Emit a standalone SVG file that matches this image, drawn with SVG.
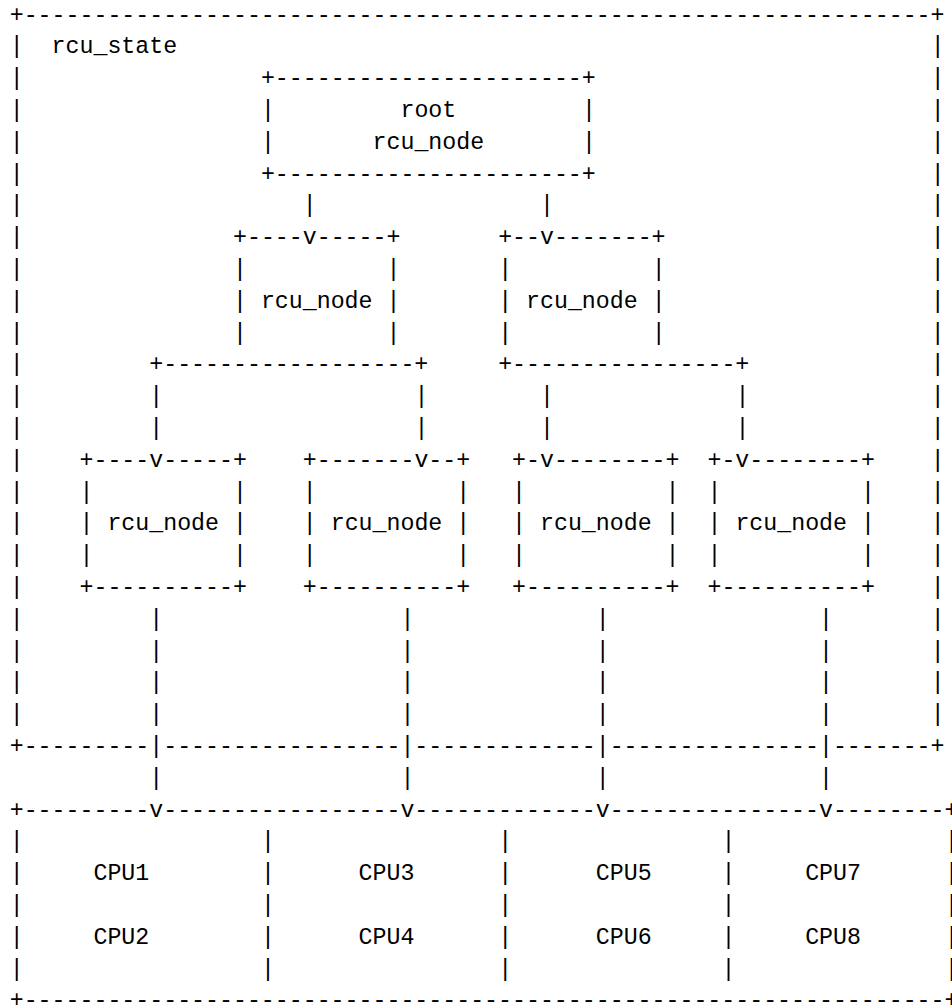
<svg xmlns="http://www.w3.org/2000/svg" width="952" height="1007" viewBox="0 0 952 1007">
<style>
text { font-family: "Liberation Mono", "Courier New", monospace; font-size: 23.25px; fill: #000; }
</style>
<rect width="952" height="1007" fill="#fff"/>
<g id="rcu_state">
<text x="9.72" y="21.6">+-----------------------------------------------------------------+</text>
<text x="51.59" y="53.4">rcu_state</text>
<text x="9.72 930.75" y="53.4">||</text>
<text x="9.72 930.75" y="85.2">||</text>
<text x="9.72 930.75" y="117.0">||</text>
<text x="9.72 930.75" y="148.8">||</text>
<text x="9.72 930.75" y="180.6">||</text>
<text x="9.72 930.75" y="212.4">||</text>
<text x="9.72 930.75" y="244.2">||</text>
<text x="9.72 930.75" y="276.0">||</text>
<text x="9.72 930.75" y="307.8">||</text>
<text x="9.72 930.75" y="339.6">||</text>
<text x="9.72 930.75" y="371.4">||</text>
<text x="9.72 930.75" y="403.2">||</text>
<text x="9.72 930.75" y="435.0">||</text>
<text x="9.72 930.75" y="466.8">||</text>
<text x="9.72 930.75" y="498.6">||</text>
<text x="9.72 930.75" y="530.4">||</text>
<text x="9.72 930.75" y="562.2">||</text>
<text x="9.72 930.75" y="594.0">||</text>
<text x="9.72 930.75" y="625.8">||</text>
<text x="9.72 930.75" y="657.6">||</text>
<text x="9.72 930.75" y="689.4">||</text>
<text x="9.72 930.75" y="721.2">||</text>
<text x="9.72" y="753.0">+---------|-----------------|-------------|---------------|-------+</text>
</g>
<g id="root_rcu_node">
<text x="260.91" y="85.2">+----------------------+</text>
<text x="260.91 581.88" y="117.0">||</text>
<text x="400.46" y="117.0">root</text>
<text x="260.91 581.88" y="148.8">||</text>
<text x="372.55" y="148.8">rcu_node</text>
<text x="260.91" y="180.6">+----------------------+</text>
</g>
<g id="rcu_node_1a">
<text x="233.00" y="244.2">+----v-----+</text>
<text x="233.00 386.51" y="276.0">||</text>
<text x="233.00 386.51" y="307.8">||</text>
<text x="260.91" y="307.8">rcu_node</text>
<text x="233.00 386.51" y="339.6">||</text>
</g>
<g id="rcu_node_1b">
<text x="498.15" y="244.2">+--v-------+</text>
<text x="498.15 651.65" y="276.0">||</text>
<text x="498.15 651.65" y="307.8">||</text>
<text x="526.06" y="307.8">rcu_node</text>
<text x="498.15 651.65" y="339.6">||</text>
</g>
<g id="rcu_node_2a">
<text x="79.50" y="466.8">+----v-----+</text>
<text x="79.50 233.00" y="498.6">||</text>
<text x="79.50 233.00" y="530.4">||</text>
<text x="107.41" y="530.4">rcu_node</text>
<text x="79.50 233.00" y="562.2">||</text>
<text x="79.50" y="594.0">+----------+</text>
</g>
<g id="rcu_node_2b">
<text x="302.78" y="466.8">+-------v--+</text>
<text x="302.78 456.28" y="498.6">||</text>
<text x="302.78 456.28" y="530.4">||</text>
<text x="330.69" y="530.4">rcu_node</text>
<text x="302.78 456.28" y="562.2">||</text>
<text x="302.78" y="594.0">+----------+</text>
</g>
<g id="rcu_node_2c">
<text x="512.10" y="466.8">+-v--------+</text>
<text x="512.10 665.61" y="498.6">||</text>
<text x="512.10 665.61" y="530.4">||</text>
<text x="540.01" y="530.4">rcu_node</text>
<text x="512.10 665.61" y="562.2">||</text>
<text x="512.10" y="594.0">+----------+</text>
</g>
<g id="rcu_node_2d">
<text x="707.47" y="466.8">+-v--------+</text>
<text x="707.47 860.98" y="498.6">||</text>
<text x="707.47 860.98" y="530.4">||</text>
<text x="735.38" y="530.4">rcu_node</text>
<text x="707.47 860.98" y="562.2">||</text>
<text x="707.47" y="594.0">+----------+</text>
</g>
<g id="cpus">
<text x="9.72" y="816.6">+---------v-----------------v-------------v---------------v--------+</text>
<text x="9.72 260.91 498.15 721.43 944.70" y="848.4">|||||</text>
<text x="9.72 260.91 498.15 721.43 944.70" y="880.2">|||||</text>
<text x="9.72 260.91 498.15 721.43 944.70" y="912.0">|||||</text>
<text x="9.72 260.91 498.15 721.43 944.70" y="943.8">|||||</text>
<text x="9.72 260.91 498.15 721.43 944.70" y="975.6">|||||</text>
<text x="93.45" y="880.2">CPU1</text>
<text x="93.45" y="943.8">CPU2</text>
<text x="358.60" y="880.2">CPU3</text>
<text x="358.60" y="943.8">CPU4</text>
<text x="595.83" y="880.2">CPU5</text>
<text x="595.83" y="943.8">CPU6</text>
<text x="805.16" y="880.2">CPU7</text>
<text x="805.16" y="943.8">CPU8</text>
<text x="9.72" y="1007.4">+------------------------------------------------------------------+</text>
</g>
<g id="connectors">
<text x="302.78 540.01" y="212.4">||</text>
<text x="149.27" y="371.4">+------------------+</text>
<text x="498.15" y="371.4">+----------------+</text>
<text x="149.27 414.42 540.01 735.38" y="403.2">||||</text>
<text x="149.27 414.42 540.01 735.38" y="435.0">||||</text>
<text x="149.27 400.46 595.83 819.11" y="625.8">||||</text>
<text x="149.27 400.46 595.83 819.11" y="657.6">||||</text>
<text x="149.27 400.46 595.83 819.11" y="689.4">||||</text>
<text x="149.27 400.46 595.83 819.11" y="721.2">||||</text>
<text x="149.27 400.46 595.83 819.11" y="784.8">||||</text>
</g>
</svg>
